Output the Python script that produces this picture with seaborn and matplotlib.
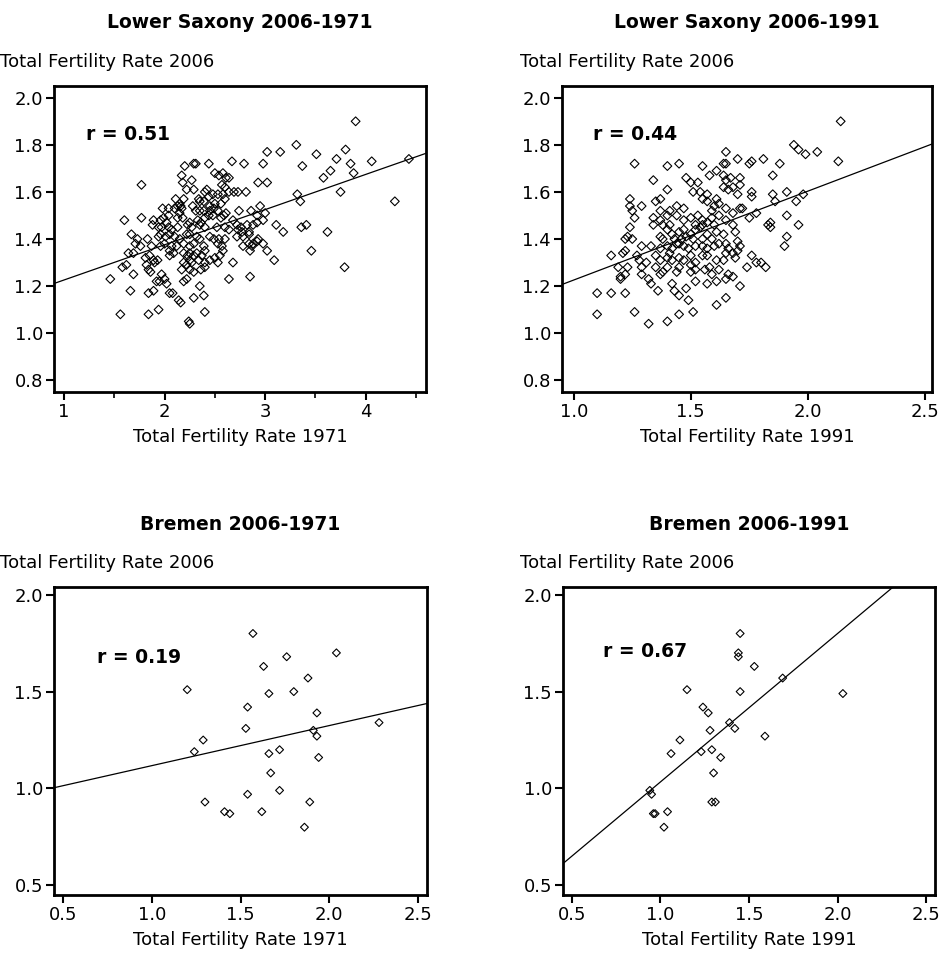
import matplotlib
matplotlib.use("Agg")
import matplotlib.pyplot as plt
import seaborn as sns
import pandas as pd
from matplotlib.ticker import MultipleLocator

# Lower Saxony, TFR 1971 vs TFR 2006
ls71_x = [3.02, 2.20, 2.29, 2.31, 2.44, 2.67, 2.79, 2.98, 2.17, 2.27, 2.50, 2.54, 2.58, 2.61, 2.64,
          2.18, 2.93, 3.02, 1.77, 2.22, 2.29, 2.42, 2.57, 2.60, 2.34, 2.40, 2.44, 2.48, 2.53, 2.58,
          2.64, 2.69, 2.73, 2.81, 2.11, 2.15, 2.19, 2.10, 2.13, 2.16, 2.28, 2.35, 2.39, 2.45, 2.50,
          2.56, 2.60, 2.95, 1.98, 2.04, 2.17, 2.31, 2.35, 2.39, 2.45, 2.49, 2.53, 2.61, 2.74, 2.86,
          2.92, 3.00, 2.04, 2.15, 1.60, 1.77, 1.89, 1.96, 1.99, 2.02, 2.13, 2.18, 2.25, 2.33, 2.36,
          2.40, 2.44, 2.48, 2.56, 2.59, 2.68, 2.72, 2.82, 2.88, 2.92, 2.98, 1.88, 1.94, 1.97, 2.04,
          2.07, 2.13, 2.23, 2.27, 2.35, 2.40, 2.52, 2.60, 2.64, 2.73, 2.76, 2.84, 2.77, 1.67, 1.73,
          1.83, 1.94, 1.96, 2.01, 2.05, 2.10, 2.15, 2.22, 2.25, 2.32, 2.35, 2.45, 2.49, 2.54, 2.60,
          2.72, 2.78, 2.84, 2.93, 1.71, 1.76, 1.87, 1.96, 2.00, 2.07, 2.12, 2.19, 2.25, 2.29, 2.39,
          2.53, 2.57, 2.78, 2.84, 2.87, 2.88, 2.92, 2.98, 3.02, 1.64, 1.69, 1.81, 1.85, 1.89, 1.93,
          2.05, 2.05, 2.09, 2.19, 2.23, 2.25, 2.29, 2.32, 2.37, 2.40, 2.50, 2.55, 2.58, 2.85, 1.58,
          1.62, 1.82, 1.90, 2.19, 2.22, 2.25, 2.27, 2.34, 2.40, 2.45, 2.53, 2.68, 1.69, 1.84, 1.86,
          1.97, 2.17, 2.25, 2.29, 2.36, 2.40, 1.46, 2.85, 2.64, 1.92, 1.95, 2.00, 2.02, 2.19, 2.22,
          2.35, 1.66, 1.84, 1.89, 2.05, 2.08, 2.14, 2.16, 2.29, 2.39, 1.56, 1.84, 1.94, 2.24, 2.25,
          2.40, 3.90, 3.15, 3.31, 3.51, 3.80, 3.37, 3.71, 3.85, 4.06, 4.43, 3.65, 3.58, 3.88, 3.32,
          3.75, 3.35, 4.29, 3.11, 3.18, 3.36, 3.41, 3.62, 3.46, 3.09, 3.79]
ls71_y = [1.77, 1.71, 1.72, 1.72, 1.72, 1.73, 1.72, 1.72, 1.67, 1.65, 1.68, 1.67, 1.68, 1.66, 1.66,
          1.64, 1.64, 1.64, 1.63, 1.61, 1.61, 1.61, 1.63, 1.62, 1.57, 1.60, 1.58, 1.59, 1.59, 1.59,
          1.60, 1.60, 1.60, 1.60, 1.57, 1.55, 1.57, 1.53, 1.54, 1.54, 1.54, 1.56, 1.56, 1.54, 1.55,
          1.55, 1.57, 1.54, 1.53, 1.53, 1.53, 1.52, 1.52, 1.52, 1.52, 1.53, 1.52, 1.51, 1.52, 1.52,
          1.50, 1.51, 1.50, 1.51, 1.48, 1.49, 1.48, 1.48, 1.49, 1.47, 1.49, 1.49, 1.47, 1.48, 1.47,
          1.49, 1.50, 1.50, 1.49, 1.50, 1.48, 1.46, 1.46, 1.46, 1.47, 1.48, 1.46, 1.45, 1.45, 1.45,
          1.44, 1.45, 1.46, 1.45, 1.46, 1.45, 1.45, 1.45, 1.44, 1.44, 1.45, 1.43, 1.43, 1.42, 1.40,
          1.40, 1.41, 1.42, 1.41, 1.42, 1.41, 1.40, 1.42, 1.42, 1.41, 1.40, 1.41, 1.40, 1.40, 1.40,
          1.41, 1.41, 1.42, 1.40, 1.38, 1.37, 1.37, 1.37, 1.38, 1.37, 1.37, 1.38, 1.37, 1.38, 1.37,
          1.38, 1.37, 1.37, 1.38, 1.37, 1.38, 1.39, 1.38, 1.35, 1.34, 1.34, 1.32, 1.33, 1.31, 1.31,
          1.35, 1.33, 1.34, 1.34, 1.33, 1.34, 1.33, 1.34, 1.33, 1.35, 1.32, 1.33, 1.35, 1.35, 1.28,
          1.29, 1.29, 1.30, 1.30, 1.29, 1.31, 1.30, 1.31, 1.30, 1.31, 1.30, 1.30, 1.25, 1.27, 1.26,
          1.25, 1.27, 1.27, 1.26, 1.27, 1.28, 1.23, 1.24, 1.23, 1.22, 1.22, 1.23, 1.21, 1.22, 1.23,
          1.20, 1.18, 1.17, 1.18, 1.17, 1.17, 1.14, 1.13, 1.15, 1.16, 1.08, 1.08, 1.10, 1.05, 1.04,
          1.09, 1.90, 1.77, 1.80, 1.76, 1.78, 1.71, 1.74, 1.72, 1.73, 1.74, 1.69, 1.66, 1.68, 1.59,
          1.60, 1.56, 1.56, 1.46, 1.43, 1.45, 1.46, 1.43, 1.35, 1.31, 1.28]

# Lower Saxony, TFR 1991 vs TFR 2006
ls91_x = [1.65, 1.26, 1.40, 1.45, 1.55, 1.61, 1.64, 1.65, 1.58, 1.34, 1.48, 1.50, 1.53, 1.40, 1.51,
          1.54, 1.57, 1.64, 1.65, 1.64, 1.66, 1.24, 1.24, 1.29, 1.35, 1.37, 1.25, 1.37, 1.41, 1.44,
          1.47, 1.55, 1.57, 1.60, 1.61, 1.62, 1.65, 1.59, 1.26, 1.34, 1.37, 1.40, 1.44, 1.47, 1.50,
          1.53, 1.55, 1.59, 1.62, 1.65, 1.34, 1.38, 1.41, 1.52, 1.55, 1.57, 1.60, 1.24, 1.37, 1.40,
          1.42, 1.45, 1.47, 1.50, 1.52, 1.54, 1.57, 1.61, 1.64, 1.23, 1.25, 1.38, 1.43, 1.46, 1.48,
          1.51, 1.55, 1.59, 1.22, 1.29, 1.33, 1.37, 1.40, 1.42, 1.44, 1.45, 1.47, 1.49, 1.52, 1.55,
          1.57, 1.60, 1.62, 1.65, 1.66, 1.22, 1.16, 1.19, 1.21, 1.27, 1.28, 1.31, 1.35, 1.37, 1.40,
          1.41, 1.42, 1.45, 1.47, 1.50, 1.52, 1.55, 1.57, 1.61, 1.64, 1.65, 1.23, 1.29, 1.35, 1.40,
          1.45, 1.50, 1.58, 1.20, 1.22, 1.29, 1.37, 1.38, 1.44, 1.50, 1.52, 1.56, 1.59, 1.62, 1.66,
          1.20, 1.32, 1.33, 1.36, 1.42, 1.43, 1.45, 1.48, 1.49, 1.52, 1.57, 1.61, 1.65, 1.10, 1.16,
          1.22, 1.61, 1.65, 1.10, 1.26, 1.32, 1.40, 1.45, 1.51, 2.14, 1.94, 1.96, 1.99, 2.04, 2.13,
          1.70, 1.75, 1.76, 1.81, 1.88, 1.67, 1.71, 1.85, 1.68, 1.71, 1.70, 1.76, 1.76, 1.85, 1.91,
          1.86, 1.95, 1.98, 1.68, 1.71, 1.72, 1.75, 1.78, 1.91, 1.68, 1.69, 1.83, 1.84, 1.84, 1.96,
          1.70, 1.71, 1.70, 1.68, 1.69, 1.76, 1.91, 1.90, 1.74, 1.78, 1.80, 1.82, 1.68, 1.71]
ls91_y = [1.77, 1.72, 1.71, 1.72, 1.71, 1.69, 1.72, 1.72, 1.67, 1.65, 1.66, 1.64, 1.64, 1.61, 1.60,
          1.60, 1.59, 1.67, 1.65, 1.62, 1.61, 1.57, 1.54, 1.54, 1.56, 1.57, 1.52, 1.52, 1.52, 1.54,
          1.53, 1.57, 1.56, 1.54, 1.57, 1.55, 1.53, 1.52, 1.49, 1.49, 1.48, 1.50, 1.50, 1.48, 1.49,
          1.50, 1.48, 1.49, 1.50, 1.48, 1.46, 1.46, 1.46, 1.46, 1.46, 1.47, 1.46, 1.45, 1.41, 1.44,
          1.42, 1.43, 1.44, 1.42, 1.44, 1.45, 1.42, 1.43, 1.42, 1.41, 1.40, 1.40, 1.40, 1.40, 1.41,
          1.40, 1.40, 1.40, 1.40, 1.37, 1.37, 1.36, 1.37, 1.36, 1.38, 1.38, 1.37, 1.36, 1.37, 1.37,
          1.36, 1.37, 1.38, 1.38, 1.36, 1.35, 1.33, 1.28, 1.34, 1.33, 1.31, 1.30, 1.33, 1.31, 1.32,
          1.34, 1.31, 1.32, 1.31, 1.33, 1.30, 1.33, 1.33, 1.31, 1.31, 1.34, 1.28, 1.28, 1.28, 1.28,
          1.28, 1.29, 1.28, 1.24, 1.25, 1.25, 1.25, 1.26, 1.26, 1.26, 1.27, 1.27, 1.25, 1.27, 1.25,
          1.23, 1.23, 1.21, 1.18, 1.21, 1.18, 1.16, 1.19, 1.14, 1.22, 1.21, 1.22, 1.23, 1.17, 1.17,
          1.17, 1.12, 1.15, 1.08, 1.09, 1.04, 1.05, 1.08, 1.09, 1.90, 1.80, 1.78, 1.76, 1.77, 1.73,
          1.74, 1.72, 1.73, 1.74, 1.72, 1.66, 1.66, 1.67, 1.62, 1.63, 1.59, 1.60, 1.58, 1.59, 1.60,
          1.56, 1.56, 1.59, 1.51, 1.53, 1.53, 1.49, 1.51, 1.50, 1.46, 1.43, 1.46, 1.45, 1.47, 1.46,
          1.39, 1.37, 1.35, 1.34, 1.32, 1.33, 1.41, 1.37, 1.28, 1.30, 1.30, 1.28, 1.24, 1.20]

# Bremen, TFR 1971 vs TFR 2006
hb71_x = [1.57, 2.04, 1.76, 1.63, 1.88, 1.20, 1.66, 1.80, 1.54, 1.93, 2.28, 1.53, 1.91, 1.93,
          1.29, 1.24, 1.66, 1.72, 1.94, 1.67, 1.72, 1.54, 1.30, 1.89, 1.41, 1.44, 1.62, 1.86]
hb71_y = [1.80, 1.70, 1.68, 1.63, 1.57, 1.51, 1.49, 1.50, 1.42, 1.39, 1.34, 1.31, 1.30, 1.27,
          1.25, 1.19, 1.18, 1.20, 1.16, 1.08, 0.99, 0.97, 0.93, 0.93, 0.88, 0.87, 0.88, 0.80]

# Bremen, TFR 1991 vs TFR 2006
hb91_x = [1.45, 1.44, 1.44, 1.53, 1.69, 1.15, 1.45, 2.03, 1.24, 1.27, 1.39, 1.42, 1.28, 1.59,
          1.11, 1.06, 1.23, 1.29, 1.34, 1.30, 0.94, 0.95, 1.29, 1.31, 0.96, 0.97, 1.04, 1.02]
hb91_y = [1.80, 1.70, 1.68, 1.63, 1.57, 1.51, 1.50, 1.49, 1.42, 1.39, 1.34, 1.31, 1.30, 1.27,
          1.25, 1.18, 1.19, 1.20, 1.16, 1.08, 0.99, 0.97, 0.93, 0.93, 0.87, 0.87, 0.88, 0.80]

ylab = "Total Fertility Rate 2006"
ls_yticks = [0.8, 1.0, 1.2, 1.4, 1.6, 1.8, 2.0]
hb_yticks = [0.5, 1.0, 1.5, 2.0]

sns.set_style("ticks")
plt.rcParams["font.family"] = ["DejaVu Sans"]
plt.rcParams.update({"text.color": "black", "axes.labelcolor": "black",
                     "xtick.color": "black", "ytick.color": "black"})

W, H = 943, 960
fig = plt.figure(figsize=(W / 100, H / 100), dpi=100)


def add_panel(box, x, y, title, xlabel, xlim, ylim, xticks, xticklabels, yticks,
              r_txt, r_pos, ylab_x, ms, minor=None):
    left, top, right, bottom = box
    ax = fig.add_axes([left / W, 1 - bottom / H, (right - left) / W, (bottom - top) / H])
    df = pd.DataFrame({"x": x, "y": y})
    ax.set_xlim(xlim)
    ax.set_ylim(ylim)
    sns.scatterplot(data=df, x="x", y="y", ax=ax, marker="D", s=ms,
                    facecolors="none", edgecolor="black", linewidth=0.8)
    sns.regplot(data=df, x="x", y="y", ax=ax, scatter=False, ci=None, truncate=False,
                line_kws=dict(color="black", lw=0.9))
    ax.set_xlim(xlim)
    ax.set_ylim(ylim)
    ax.set_xticks(xticks)
    ax.set_xticklabels(xticklabels)
    ax.set_yticks(yticks)
    ax.set_yticklabels([f"{t:.1f}" for t in yticks])
    if minor:
        ax.xaxis.set_minor_locator(MultipleLocator(minor))
    ax.tick_params(which="major", direction="out", length=6, width=1.5, labelsize=13, pad=2)
    ax.tick_params(which="minor", direction="out", length=4, width=1.2)
    for s in ax.spines.values():
        s.set_linewidth(2)
        s.set_color("black")
    ax.set_xlabel("")
    ax.set_ylabel("")
    h = bottom - top
    ax.text(0.5, 1 + 63 / h, title, transform=ax.transAxes, ha="center", va="center",
            fontsize=13.5, fontweight="bold")
    ax.text(ylab_x, 1 + 24 / h, ylab, transform=ax.transAxes, ha="left", va="center", fontsize=13)
    ax.text(0.5, -45 / h, xlabel, transform=ax.transAxes, ha="center", va="center", fontsize=13)
    ax.text(r_pos[0], r_pos[1], r_txt, transform=ax.transAxes, ha="left", va="center",
            fontsize=13.5, fontweight="bold")
    return ax


add_panel((54, 86, 426, 392), ls71_x, ls71_y, "Lower Saxony 2006-1971", "Total Fertility Rate 1971",
          (0.9, 4.6), (0.75, 2.05), [1, 2, 3, 4], ["1", "2", "3", "4"], ls_yticks,
          "r = 0.51", (0.086, 0.84), -0.145, 20, minor=0.5)
add_panel((562, 86, 932, 392), ls91_x, ls91_y, "Lower Saxony 2006-1991", "Total Fertility Rate 1991",
          (0.95, 2.53), (0.75, 2.05), [1.0, 1.5, 2.0, 2.5], ["1.0", "1.5", "2.0", "2.5"], ls_yticks,
          "r = 0.44", (0.083, 0.84), -0.114, 20)
add_panel((54, 587, 427, 895), hb71_x, hb71_y, "Bremen 2006-1971", "Total Fertility Rate 1971",
          (0.45, 2.55), (0.45, 2.04), [0.5, 1.0, 1.5, 2.0, 2.5],
          ["0.5", "1.0", "1.5", "2.0", "2.5"], hb_yticks,
          "r = 0.19", (0.114, 0.77), -0.145, 16)
add_panel((563, 587, 935, 895), hb91_x, hb91_y, "Bremen 2006-1991", "Total Fertility Rate 1991",
          (0.45, 2.55), (0.45, 2.04), [0.5, 1.0, 1.5, 2.0, 2.5],
          ["0.5", "1.0", "1.5", "2.0", "2.5"], hb_yticks,
          "r = 0.67", (0.107, 0.79), -0.116, 16)

fig.savefig("out.png", dpi=100, facecolor="white")
